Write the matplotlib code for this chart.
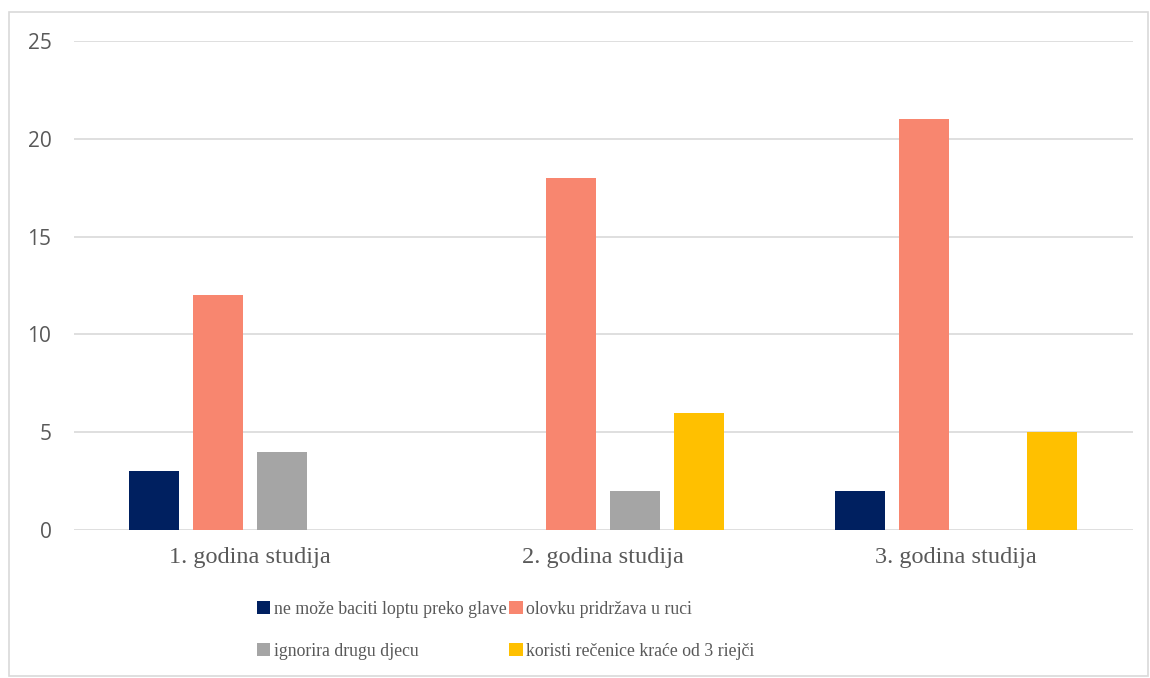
import matplotlib.pyplot as plt
import numpy as np
from matplotlib.patches import Rectangle

# podaci
godine = ['1. godina studija', '2. godina studija', '3. godina studija']
ne_moze = [3, 0, 2]
olovku = [12, 18, 21]
ignorira = [4, 2, 0]
koristi = [0, 6, 5]
nazivi = ['ne može baciti loptu preko glave', 'olovku pridržava u ruci',
          'ignorira drugu djecu', 'koristi rečenice kraće od 3 riejči']
boje = ['#002060', '#F8866F', '#A5A5A5', '#FFC000']

fig = plt.figure(figsize=(11.5, 6.78), dpi=100)
ax = fig.add_axes([0.064, 0.2183, 0.921, 0.7212])

x = np.arange(len(godine))
korak = 0.181
sirina = 0.142
serije = [ne_moze, olovku, ignorira, koristi]
for i, (vrijednosti, naziv, boja) in enumerate(zip(serije, nazivi, boje)):
    ax.bar(x + (i - 1.5) * korak, vrijednosti, sirina, color=boja, label=naziv, zorder=3)

ax.set_xlim(-0.5, 2.5)
ax.set_ylim(0, 25)
ax.set_yticks([0, 5, 10, 15, 20, 25])
ax.yaxis.grid(True, color='#D9D9D9', linewidth=1.2, zorder=0)
for s in ax.spines.values():
    s.set_visible(False)
ax.tick_params(axis='both', length=0)
ax.tick_params(axis='y', pad=16, labelsize=15, labelcolor='#595959')
for t in ax.get_yticklabels():
    t.set_fontfamily('Open Sans')
ax.set_xticks(x)
ax.set_xticklabels(godine, fontfamily='Liberation Serif', fontsize=17.5, color='#595959')
ax.tick_params(axis='x', pad=12)

# okvir
fig.patches.append(Rectangle((9 / 1150, 2 / 678), 1139 / 1150, 664 / 678, transform=fig.transFigure,
                             fill=False, edgecolor='#D9D9D9', linewidth=1.2))

# legenda po redovima
h, l = ax.get_legend_handles_labels()
red = [0, 2, 1, 3]
leg = fig.legend([h[i] for i in red], [l[i] for i in red], loc='upper left',
                 bbox_to_anchor=(0.2095, 0.137), ncol=2, frameon=False,
                 prop={'family': 'Liberation Serif', 'size': 12.8}, handlelength=0.75, handleheight=0.75,
                 handletextpad=0.2, columnspacing=0.15, labelspacing=1.4)
for t in leg.get_texts():
    t.set_color('#595959')

fig.savefig('out.png', dpi=100)
